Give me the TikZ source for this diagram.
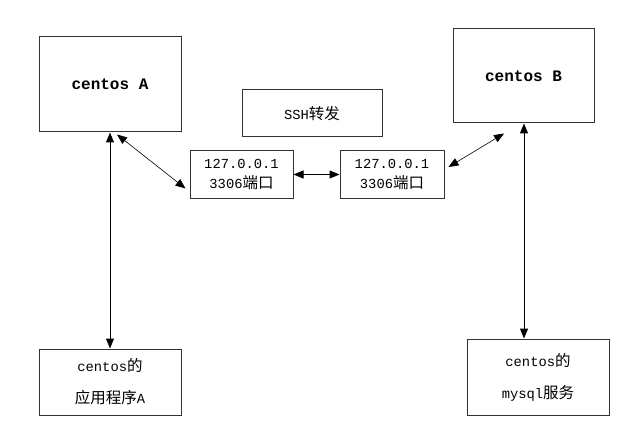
\documentclass[tikz,border=0pt]{standalone}
\usepackage{fontspec}
\setmonofont{Liberation Mono}
\newfontfamily\cjk{Noto Sans CJK SC}
\usetikzlibrary{positioning, arrows.meta, calc}
\newcommand{\zh}[1]{{\cjk\fontsize{15.5}{20}\selectfont #1}}

\tikzset{
  box/.style={draw=black!80, line width=1pt, align=center, inner sep=0pt,
    font=\fontsize{13.8}{20}\selectfont\ttfamily},
  host/.style={box, minimum width=142pt, minimum height=95pt,
    font=\fontsize{16}{20}\selectfont\ttfamily\bfseries},
  port/.style={box, minimum width=103pt, minimum height=47pt},
  link/.style={<->, line width=1pt},
  tunnel/.style={<->, line width=0.6pt}
}

\begin{document}
\begin{tikzpicture}[x=1pt, y=-1pt, >={Triangle[length=10pt,width=8pt]}]
    \fill[white] (0,0) rectangle (631,422);
    \useasboundingbox (0,0) rectangle (631,422);

    \node[host] (centosA) at (110,84.5) {centos A};
    \node[host, minimum width=141pt, minimum height=94pt] (centosB) at (523.5,76) {centos B};
    \node[box, minimum width=140pt, minimum height=47pt] (ssh) at (312,113.5) {SSH\zh{转发}};

    \node[port] (portA) at (241.5,174.5) {127.0.0.1\\3306\zh{端口}};
    \node[port, minimum width=104pt] (portB) at (392,174.5) {127.0.0.1\\3306\zh{端口}};

    \node[box, minimum width=142pt, minimum height=66pt] (appA) at (110,382)
      {centos\zh{的}\\[12pt]\zh{应用程序}A};
    \node[box, minimum width=142pt, minimum height=76pt] (mysql) at (538,377)
      {centos\zh{的}\\[12pt]mysql\zh{服务}};

    \draw[link] (centosA.south) -- (appA.north);
    \draw[link] ([xshift=0.5pt]centosB.south) -- ([xshift=0.5pt]centosB.south |- mysql.north);
    \draw[link] (portA.east) -- (portB.west);

    \draw[tunnel] ([xshift=7pt,yshift=-2pt]centosA.south) -- ([xshift=-4pt,yshift=10pt]portA.south west);
    \draw[tunnel] ([xshift=4pt,yshift=7.5pt]portB.east) -- ([xshift=-19.5pt,yshift=-10pt]centosB.south);
  \end{tikzpicture}
\end{document}
